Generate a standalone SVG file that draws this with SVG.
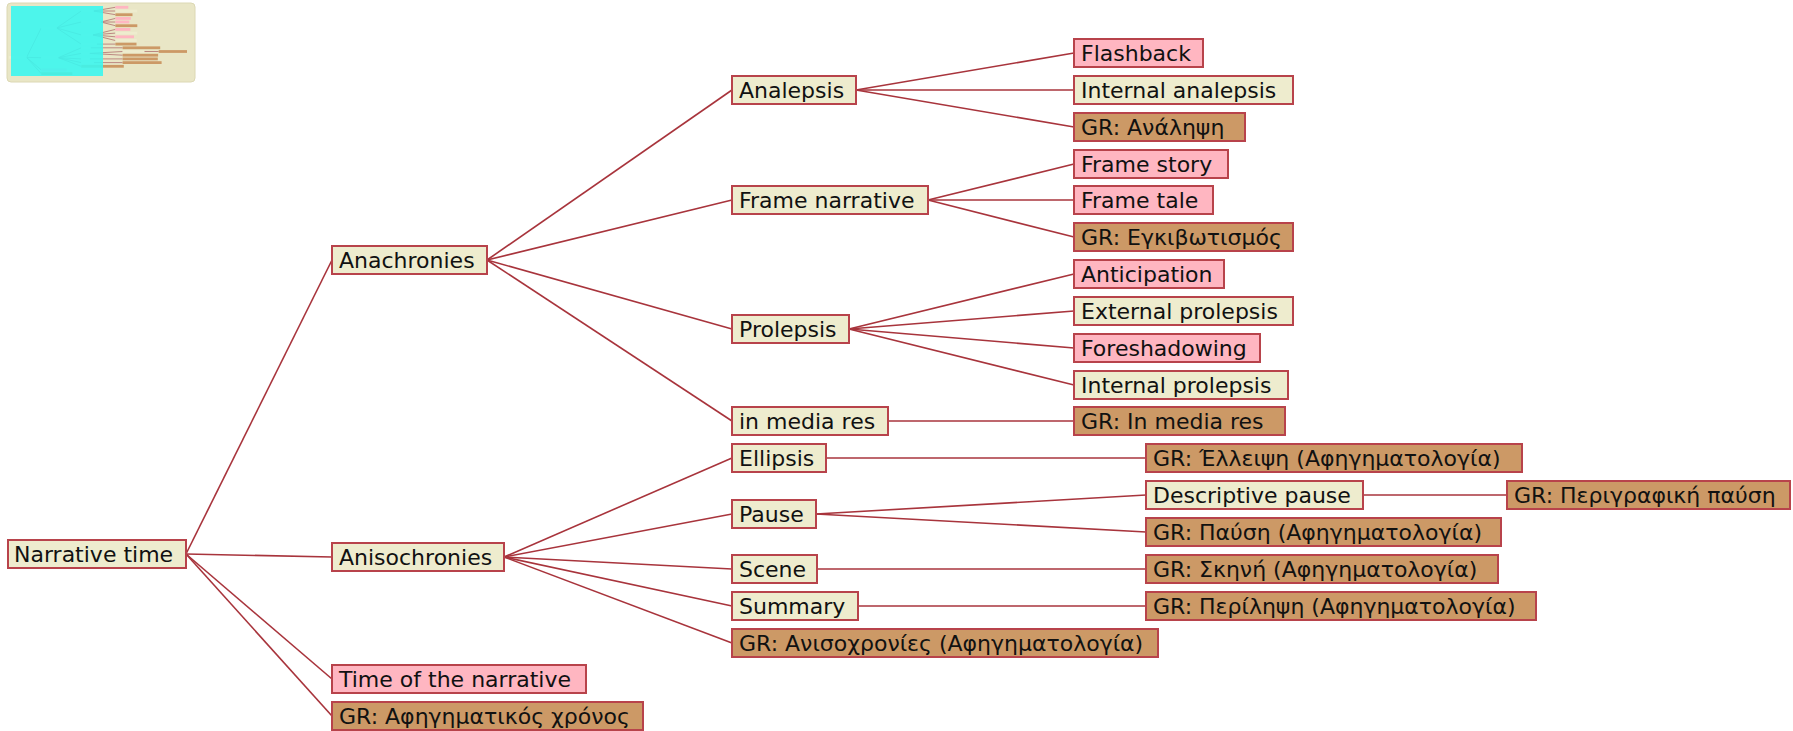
<svg xmlns="http://www.w3.org/2000/svg" width="1793" height="731" viewBox="0 0 1793 731">
<style>
  .y { fill: #EEECCE; }
  .p { fill: #FFB6C1; }
  .b { fill: #CC9966; }
  .n rect { stroke: #B8434B; stroke-width: 2; }
  .n text { font-family: "DejaVu Sans", Verdana, sans-serif; font-size: 22px; fill: #111; }
  #connectors path { stroke: #A8343C; stroke-width: 1.6; fill: none; }
  #minimap .m { stroke: none; }
  #minimap path { stroke: #B07070; stroke-width: 8; fill: none; }
</style>
<rect width="1793" height="731" fill="#FFFFFF"/>

<g id="minimap">
  <rect x="7" y="3" width="188" height="79" rx="4" fill="#E9E6C6" stroke="#DCD8B4" stroke-width="1"/>
  <g transform="translate(8,2) scale(0.1)">
    <path d="M186,554 L332,260 M186,554 L332,557 M186,554 L332,679 M186,554 L332,716 M487,260 L732,90 M487,260 L732,200 M487,260 L732,329 M487,260 L732,421 M504,557 L732,458 M504,557 L732,514 M504,557 L732,569 M504,557 L732,606 M504,557 L732,643 M856,90 L1074,53 M856,90 L1074,90 M856,90 L1074,127 M928,200 L1074,164 M928,200 L1074,200 M928,200 L1074,237 M849,329 L1074,274 M849,329 L1074,311 M849,329 L1074,348 M849,329 L1074,385 M888,421 L1074,421 M826,458 L1146,458 M816,514 L1146,495 M816,514 L1146,532 M817,569 L1146,569 M858,606 L1146,606 M1363,495 L1507,495"/>
    <rect class="m y" x="8" y="540" width="178" height="28"/>
    <rect class="m y" x="332" y="246" width="155" height="28"/>
    <rect class="m y" x="332" y="543" width="172" height="28"/>
    <rect class="m p" x="332" y="665" width="254" height="28"/>
    <rect class="m b" x="332" y="702" width="311" height="28"/>
    <rect class="m y" x="732" y="76" width="124" height="28"/>
    <rect class="m y" x="732" y="186" width="196" height="28"/>
    <rect class="m y" x="732" y="315" width="117" height="28"/>
    <rect class="m y" x="732" y="407" width="156" height="28"/>
    <rect class="m y" x="732" y="444" width="94" height="28"/>
    <rect class="m y" x="732" y="500" width="84" height="28"/>
    <rect class="m y" x="732" y="555" width="85" height="28"/>
    <rect class="m y" x="732" y="592" width="126" height="28"/>
    <rect class="m b" x="732" y="629" width="426" height="28"/>
    <rect class="m p" x="1074" y="39" width="129" height="28"/>
    <rect class="m y" x="1074" y="76" width="219" height="28"/>
    <rect class="m b" x="1074" y="113" width="171" height="28"/>
    <rect class="m p" x="1074" y="150" width="154" height="28"/>
    <rect class="m p" x="1074" y="186" width="139" height="28"/>
    <rect class="m b" x="1074" y="223" width="219" height="28"/>
    <rect class="m p" x="1074" y="260" width="150" height="28"/>
    <rect class="m y" x="1074" y="297" width="219" height="28"/>
    <rect class="m p" x="1074" y="334" width="186" height="28"/>
    <rect class="m y" x="1074" y="371" width="214" height="28"/>
    <rect class="m b" x="1074" y="407" width="211" height="28"/>
    <rect class="m b" x="1146" y="444" width="376" height="28"/>
    <rect class="m y" x="1146" y="481" width="217" height="28"/>
    <rect class="m b" x="1146" y="518" width="355" height="28"/>
    <rect class="m b" x="1146" y="555" width="352" height="28"/>
    <rect class="m b" x="1146" y="592" width="390" height="28"/>
    <rect class="m b" x="1507" y="481" width="283" height="28"/>
  </g>
  <rect x="11" y="6" width="92" height="70" fill="#3CF6EE" fill-opacity="0.9"/>
</g>

<g id="connectors">
  <path d="M186,554 L332,260"/>
  <path d="M186,554 L332,557"/>
  <path d="M186,554 L332,679"/>
  <path d="M186,554 L332,716"/>
  <path d="M487,260 L732,90"/>
  <path d="M487,260 L732,200"/>
  <path d="M487,260 L732,329"/>
  <path d="M487,260 L732,421"/>
  <path d="M504,557 L732,458"/>
  <path d="M504,557 L732,514"/>
  <path d="M504,557 L732,569"/>
  <path d="M504,557 L732,606"/>
  <path d="M504,557 L732,643"/>
  <path d="M856,90 L1074,53"/>
  <path d="M856,90 L1074,90"/>
  <path d="M856,90 L1074,127"/>
  <path d="M928,200 L1074,164"/>
  <path d="M928,200 L1074,200"/>
  <path d="M928,200 L1074,237"/>
  <path d="M849,329 L1074,274"/>
  <path d="M849,329 L1074,311"/>
  <path d="M849,329 L1074,348"/>
  <path d="M849,329 L1074,385"/>
  <path d="M888,421 L1074,421"/>
  <path d="M826,458 L1146,458"/>
  <path d="M816,514 L1146,495"/>
  <path d="M816,514 L1146,532"/>
  <path d="M817,569 L1146,569"/>
  <path d="M858,606 L1146,606"/>
  <path d="M1363,495 L1507,495"/>
</g>

<g id="n-narrative-time" class="n"><rect class="y" x="8" y="540" width="178" height="28"/><text x="14" y="562">Narrative time</text></g>
<g id="n-anachronies" class="n"><rect class="y" x="332" y="246" width="155" height="28"/><text x="339" y="268">Anachronies</text></g>
<g id="n-anisochronies" class="n"><rect class="y" x="332" y="543" width="172" height="28"/><text x="339" y="565">Anisochronies</text></g>
<g id="n-time-of-narrative" class="n"><rect class="p" x="332" y="665" width="254" height="28"/><text x="339" y="687">Time of the narrative</text></g>
<g id="n-gr-afigimatikos" class="n"><rect class="b" x="332" y="702" width="311" height="28"/><text x="339" y="724">GR: Αφηγηματικός χρόνος</text></g>

<g id="n-analepsis" class="n"><rect class="y" x="732" y="76" width="124" height="28"/><text x="739" y="98">Analepsis</text></g>
<g id="n-frame-narrative" class="n"><rect class="y" x="732" y="186" width="196" height="28"/><text x="739" y="208">Frame narrative</text></g>
<g id="n-prolepsis" class="n"><rect class="y" x="732" y="315" width="117" height="28"/><text x="739" y="337">Prolepsis</text></g>
<g id="n-in-media-res" class="n"><rect class="y" x="732" y="407" width="156" height="28"/><text x="739" y="429">in media res</text></g>
<g id="n-ellipsis" class="n"><rect class="y" x="732" y="444" width="94" height="28"/><text x="739" y="466">Ellipsis</text></g>
<g id="n-pause" class="n"><rect class="y" x="732" y="500" width="84" height="28"/><text x="739" y="522">Pause</text></g>
<g id="n-scene" class="n"><rect class="y" x="732" y="555" width="85" height="28"/><text x="739" y="577">Scene</text></g>
<g id="n-summary" class="n"><rect class="y" x="732" y="592" width="126" height="28"/><text x="739" y="614">Summary</text></g>
<g id="n-gr-anisochronies" class="n"><rect class="b" x="732" y="629" width="426" height="28"/><text x="739" y="651">GR: Ανισοχρονίες (Αφηγηματολογία)</text></g>

<g id="n-flashback" class="n"><rect class="p" x="1074" y="39" width="129" height="28"/><text x="1081" y="61">Flashback</text></g>
<g id="n-internal-analepsis" class="n"><rect class="y" x="1074" y="76" width="219" height="28"/><text x="1081" y="98">Internal analepsis</text></g>
<g id="n-gr-analipsi" class="n"><rect class="b" x="1074" y="113" width="171" height="28"/><text x="1081" y="135">GR: Ανάληψη</text></g>
<g id="n-frame-story" class="n"><rect class="p" x="1074" y="150" width="154" height="28"/><text x="1081" y="172">Frame story</text></g>
<g id="n-frame-tale" class="n"><rect class="p" x="1074" y="186" width="139" height="28"/><text x="1081" y="208">Frame tale</text></g>
<g id="n-gr-egkivotismos" class="n"><rect class="b" x="1074" y="223" width="219" height="28"/><text x="1081" y="245">GR: Εγκιβωτισμός</text></g>
<g id="n-anticipation" class="n"><rect class="p" x="1074" y="260" width="150" height="28"/><text x="1081" y="282">Anticipation</text></g>
<g id="n-external-prolepsis" class="n"><rect class="y" x="1074" y="297" width="219" height="28"/><text x="1081" y="319">External prolepsis</text></g>
<g id="n-foreshadowing" class="n"><rect class="p" x="1074" y="334" width="186" height="28"/><text x="1081" y="356">Foreshadowing</text></g>
<g id="n-internal-prolepsis" class="n"><rect class="y" x="1074" y="371" width="214" height="28"/><text x="1081" y="393">Internal prolepsis</text></g>
<g id="n-gr-in-media-res" class="n"><rect class="b" x="1074" y="407" width="211" height="28"/><text x="1081" y="429">GR: In media res</text></g>

<g id="n-gr-elleipsi" class="n"><rect class="b" x="1146" y="444" width="376" height="28"/><text x="1153" y="466">GR: Έλλειψη (Αφηγηματολογία)</text></g>
<g id="n-descriptive-pause" class="n"><rect class="y" x="1146" y="481" width="217" height="28"/><text x="1153" y="503">Descriptive pause</text></g>
<g id="n-gr-pafsi" class="n"><rect class="b" x="1146" y="518" width="355" height="28"/><text x="1153" y="540">GR: Παύση (Αφηγηματολογία)</text></g>
<g id="n-gr-skini" class="n"><rect class="b" x="1146" y="555" width="352" height="28"/><text x="1153" y="577">GR: Σκηνή (Αφηγηματολογία)</text></g>
<g id="n-gr-perilipsi" class="n"><rect class="b" x="1146" y="592" width="390" height="28"/><text x="1153" y="614">GR: Περίληψη (Αφηγηματολογία)</text></g>
<g id="n-gr-perigrafiki" class="n"><rect class="b" x="1507" y="481" width="283" height="28"/><text x="1514" y="503">GR: Περιγραφική παύση</text></g>
</svg>
